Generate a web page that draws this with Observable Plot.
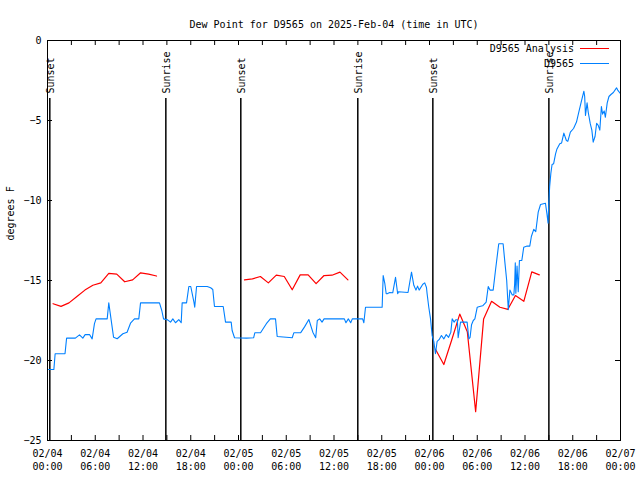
<!DOCTYPE html>
<html><head><meta charset="utf-8">
<script src="https://cdn.jsdelivr.net/npm/d3@7"></script>
<script src="https://cdn.jsdelivr.net/npm/@observablehq/plot@0.6"></script>
<style>
body{margin:0;background:#fff;}
#wrap{position:relative;width:640px;height:480px;font-family:"DejaVu Sans Mono",monospace;font-size:10px;}
.lt{position:absolute;right:66px;line-height:12px;white-space:pre;color:#000;}
.ll{position:absolute;left:580px;width:29px;height:1px;}
</style></head><body><div id="wrap"></div>
<script>
const titleText = "Dew Point for D9565 on 2025-Feb-04 (time in UTC)";
const yLabel = "degrees F";
const baseTime = "2025-02-04T00:00:00Z";
const xDomain = ["2025-02-04T00:00:00Z", "2025-02-07T00:00:00Z"];
const yDomain = [-25, 0];
const yTicks = [0, -5, -10, -15, -20, -25];
const seriesNames = ["D9565 Analysis", "D9565"];
const seriesColors = ["#ff0000", "#0080ff"];
const eventHours = [0.29, 14.87, 24.29, 38.99, 48.42, 63.0];
const eventLabels = ["Sunset", "Sunrise", "Sunset", "Sunrise", "Sunset", "Sunrise"];

// Analysis (red), null separates gaps
const analysisHours = [0.7,1.7,2.7,3.7,4.7,5.7,6.7,7.7,8.7,9.7,10.7,11.7,12.7,13.7,null,
  24.75,25.75,26.75,27.75,28.75,29.75,30.75,31.75,32.75,33.75,34.75,35.75,36.75,37.75,null,
  48.75,49.8,50.8,51.8,52.75,53.8,54.8,55.8,56.85,57.85,58.8,59.85,60.85,61.8];
const analysisValues = [-16.45,-16.62,-16.4,-16.0,-15.6,-15.3,-15.15,-14.55,-14.6,-15.08,-14.96,-14.52,-14.6,-14.72,null,
  -14.96,-14.9,-14.75,-15.15,-14.66,-14.75,-15.58,-14.65,-14.65,-15.2,-14.69,-14.67,-14.48,-14.96,null,
  -19.3,-20.25,-18.7,-17.1,-18.2,-23.2,-17.4,-16.3,-16.67,-16.8,-15.94,-16.3,-14.46,-14.65];

// Station (blue)
const stationHours = [0.13,0.8,0.96,2.2,2.4,3.5,4.02,4.44,4.73,5.28,5.61,5.9,6.1,7.5,7.7,8.3,8.76,9.47,10.0,10.43,10.93,11.47,11.69,14.07,14.36,14.58,15.1,15.46,15.75,16.08,16.5,16.8,16.92,17.47,17.76,18.0,18.4,18.5,18.73,20.07,20.5,20.77,20.98,22.08,22.37,23.08,23.2,23.5,25.0,25.9,26.05,26.77,27.5,28.0,28.65,28.86,30.75,30.95,31.8,32.3,32.84,33.34,33.7,33.9,34.2,34.5,34.75,37.3,37.5,37.8,38.1,38.3,39.6,39.75,39.96,42.05,42.18,42.39,42.56,42.68,43.0,43.38,43.73,44.0,44.1,45.3,45.74,46.03,46.3,46.5,46.7,47.16,47.4,47.62,47.7,47.91,48.13,48.33,48.54,48.75,48.96,49.2,49.5,49.8,50.1,50.4,50.68,50.85,51.1,51.3,51.5,51.6,51.9,52.73,52.94,53.1,53.28,53.5,53.7,54.0,54.3,54.68,55.12,55.38,55.6,56.0,56.3,56.7,57.25,57.47,57.7,57.9,58.1,58.4,58.6,58.7,58.78,58.85,59.0,59.15,59.3,59.6,59.84,60.27,60.6,60.8,61.1,61.35,61.66,61.95,62.57,62.75,62.9,63.0,63.1,63.25,63.4,63.6,63.84,64.0,64.37,64.6,64.88,65.2,65.38,65.7,66.1,66.47,66.76,67.06,67.4,67.5,67.6,67.8,67.95,68.2,68.4,68.57,68.8,69.0,69.2,69.4,69.6,69.75,69.95,70.1,70.33,70.55,70.8,71.1,71.5,71.65,72.0];
const stationValues = [-20.56,-20.56,-19.58,-19.58,-18.6,-18.6,-18.4,-18.6,-18.38,-18.38,-18.65,-17.7,-17.4,-17.4,-16.4,-18.54,-18.64,-18.33,-18.23,-17.67,-17.4,-17.4,-16.4,-16.4,-16.875,-17.4,-17.46,-17.6,-17.4,-17.64,-17.45,-17.64,-16.4,-16.4,-15.375,-15.375,-16.35,-16.67,-15.375,-15.375,-15.45,-15.56,-16.625,-16.625,-17.6,-17.6,-18.125,-18.58,-18.6,-18.58,-18.27,-18.27,-17.7,-17.4,-17.4,-18.5,-18.58,-18.27,-18.27,-17.9,-17.44,-18.23,-18.58,-17.5,-17.4,-17.6,-17.4,-17.4,-17.64,-17.4,-17.64,-17.4,-17.4,-17.64,-16.67,-16.67,-14.69,-15.2,-15.83,-15.83,-15.75,-15.77,-14.8,-15.83,-15.7,-15.75,-14.48,-15.3,-15.6,-15.35,-15.6,-15.23,-15.15,-15.44,-15.83,-16.67,-17.4,-18.44,-18.8,-19.58,-18.8,-18.7,-18.44,-18.65,-18.38,-18.55,-18.23,-17.4,-17.6,-17.45,-17.45,-18.58,-17.6,-17.6,-18.65,-18.55,-17.77,-17.5,-17.4,-16.67,-16.63,-16.58,-16.35,-15.375,-15.6,-15.6,-14.33,-12.7,-12.7,-13.85,-15.0,-16.83,-15.6,-15.9,-15.9,-15.2,-13.9,-15.8,-14.1,-15.7,-13.75,-13.75,-12.92,-12.85,-12.85,-12.25,-11.8,-11.95,-10.73,-10.25,-10.17,-10.8,-11.42,-10.0,-9.125,-8.3,-7.75,-7.7,-7.08,-6.8,-6.46,-6.4,-5.79,-6.25,-6.3,-5.73,-5.5,-5.1,-4.48,-3.85,-3.17,-3.5,-4.69,-3.9,-4.5,-5.2,-5.6,-6.35,-6.0,-5.17,-5.3,-5.6,-4.125,-4.6,-4.4,-4.8,-3.9,-3.5,-3.375,-3.25,-2.96,-3.1,-3.33];

const base = new Date(baseTime).getTime();
const toDate = h => h == null ? null : new Date(base + h * 3600e3);
const analysis = analysisHours.map((h, i) => ({t: toDate(h), v: analysisValues[i]}));
const station = stationHours.map((h, i) => ({t: toDate(h), v: stationValues[i]}));
const events = eventHours.map((h, i) => ({t: toDate(h), label: eventLabels[i]}));
const x0 = new Date(xDomain[0]), x1 = new Date(xDomain[1]);
const minorTicks = d3.utcHour.every(3).range(x0, new Date(+x1 + 1));
const majorTicks = d3.utcHour.every(6).range(x0, new Date(+x1 + 1));
const fmt = d3.utcFormat("%m/%d\n%H:%M");

const W = 640, H = 480, mL = 47, mR = 20, mT = 40, mB = 40;
const tick = 5;

const chart = Plot.plot({
  width: W, height: H,
  marginLeft: mL, marginRight: mR, marginTop: mT, marginBottom: mB,
  style: {fontFamily: "DejaVu Sans Mono, monospace", fontSize: "10px", background: "#fff", color: "#000"},
  x: {type: "utc", domain: [x0, x1]},
  y: {domain: yDomain},
  marks: [
    Plot.axisX({ticks: majorTicks, tickSize: 0, tickPadding: 7, tickFormat: fmt, lineHeight: 1.3, label: null}),
    Plot.axisY({ticks: yTicks, tickSize: 0, tickPadding: 6, label: null}),
    Plot.tickX(minorTicks, {x: d => d, insetTop: (H - mT - mB) - tick, stroke: "#000"}),
    Plot.tickX(minorTicks, {x: d => d, insetBottom: (H - mT - mB) - tick, stroke: "#000"}),
    Plot.tickY(yTicks, {y: d => d, insetRight: (W - mL - mR) - tick, stroke: "#000"}),
    Plot.tickY(yTicks, {y: d => d, insetLeft: (W - mL - mR) - tick, stroke: "#000"}),
    Plot.ruleX(events, {x: "t", insetTop: 58, stroke: "#000", strokeWidth: 1.5}),
    Plot.text(events, {x: "t", text: "label", frameAnchor: "top", rotate: -90, textAnchor: "start", dy: 53, dx: -3, fill: "#000"}),
    Plot.line(analysis, {x: "t", y: "v", stroke: seriesColors[0], strokeWidth: 1.2}),
    Plot.line(station, {x: "t", y: "v", stroke: seriesColors[1], strokeWidth: 1.1}),
    Plot.frame({stroke: "#000"}),
    Plot.text([titleText], {frameAnchor: "top", dy: -20, fill: "#000"}),
    Plot.text([yLabel], {frameAnchor: "left", rotate: -90, dx: -37, fill: "#000"})
  ]
});
const wrap = document.getElementById("wrap");
wrap.appendChild(chart);
seriesNames.forEach((name, i) => {
  const cy = 48 + i * 15;
  const t = document.createElement("div");
  t.className = "lt"; t.style.top = (cy - 5) + "px"; t.textContent = name;
  const l = document.createElement("div");
  l.className = "ll"; l.style.top = cy + "px"; l.style.background = seriesColors[i];
  wrap.appendChild(t); wrap.appendChild(l);
});
</script>
</body></html>
